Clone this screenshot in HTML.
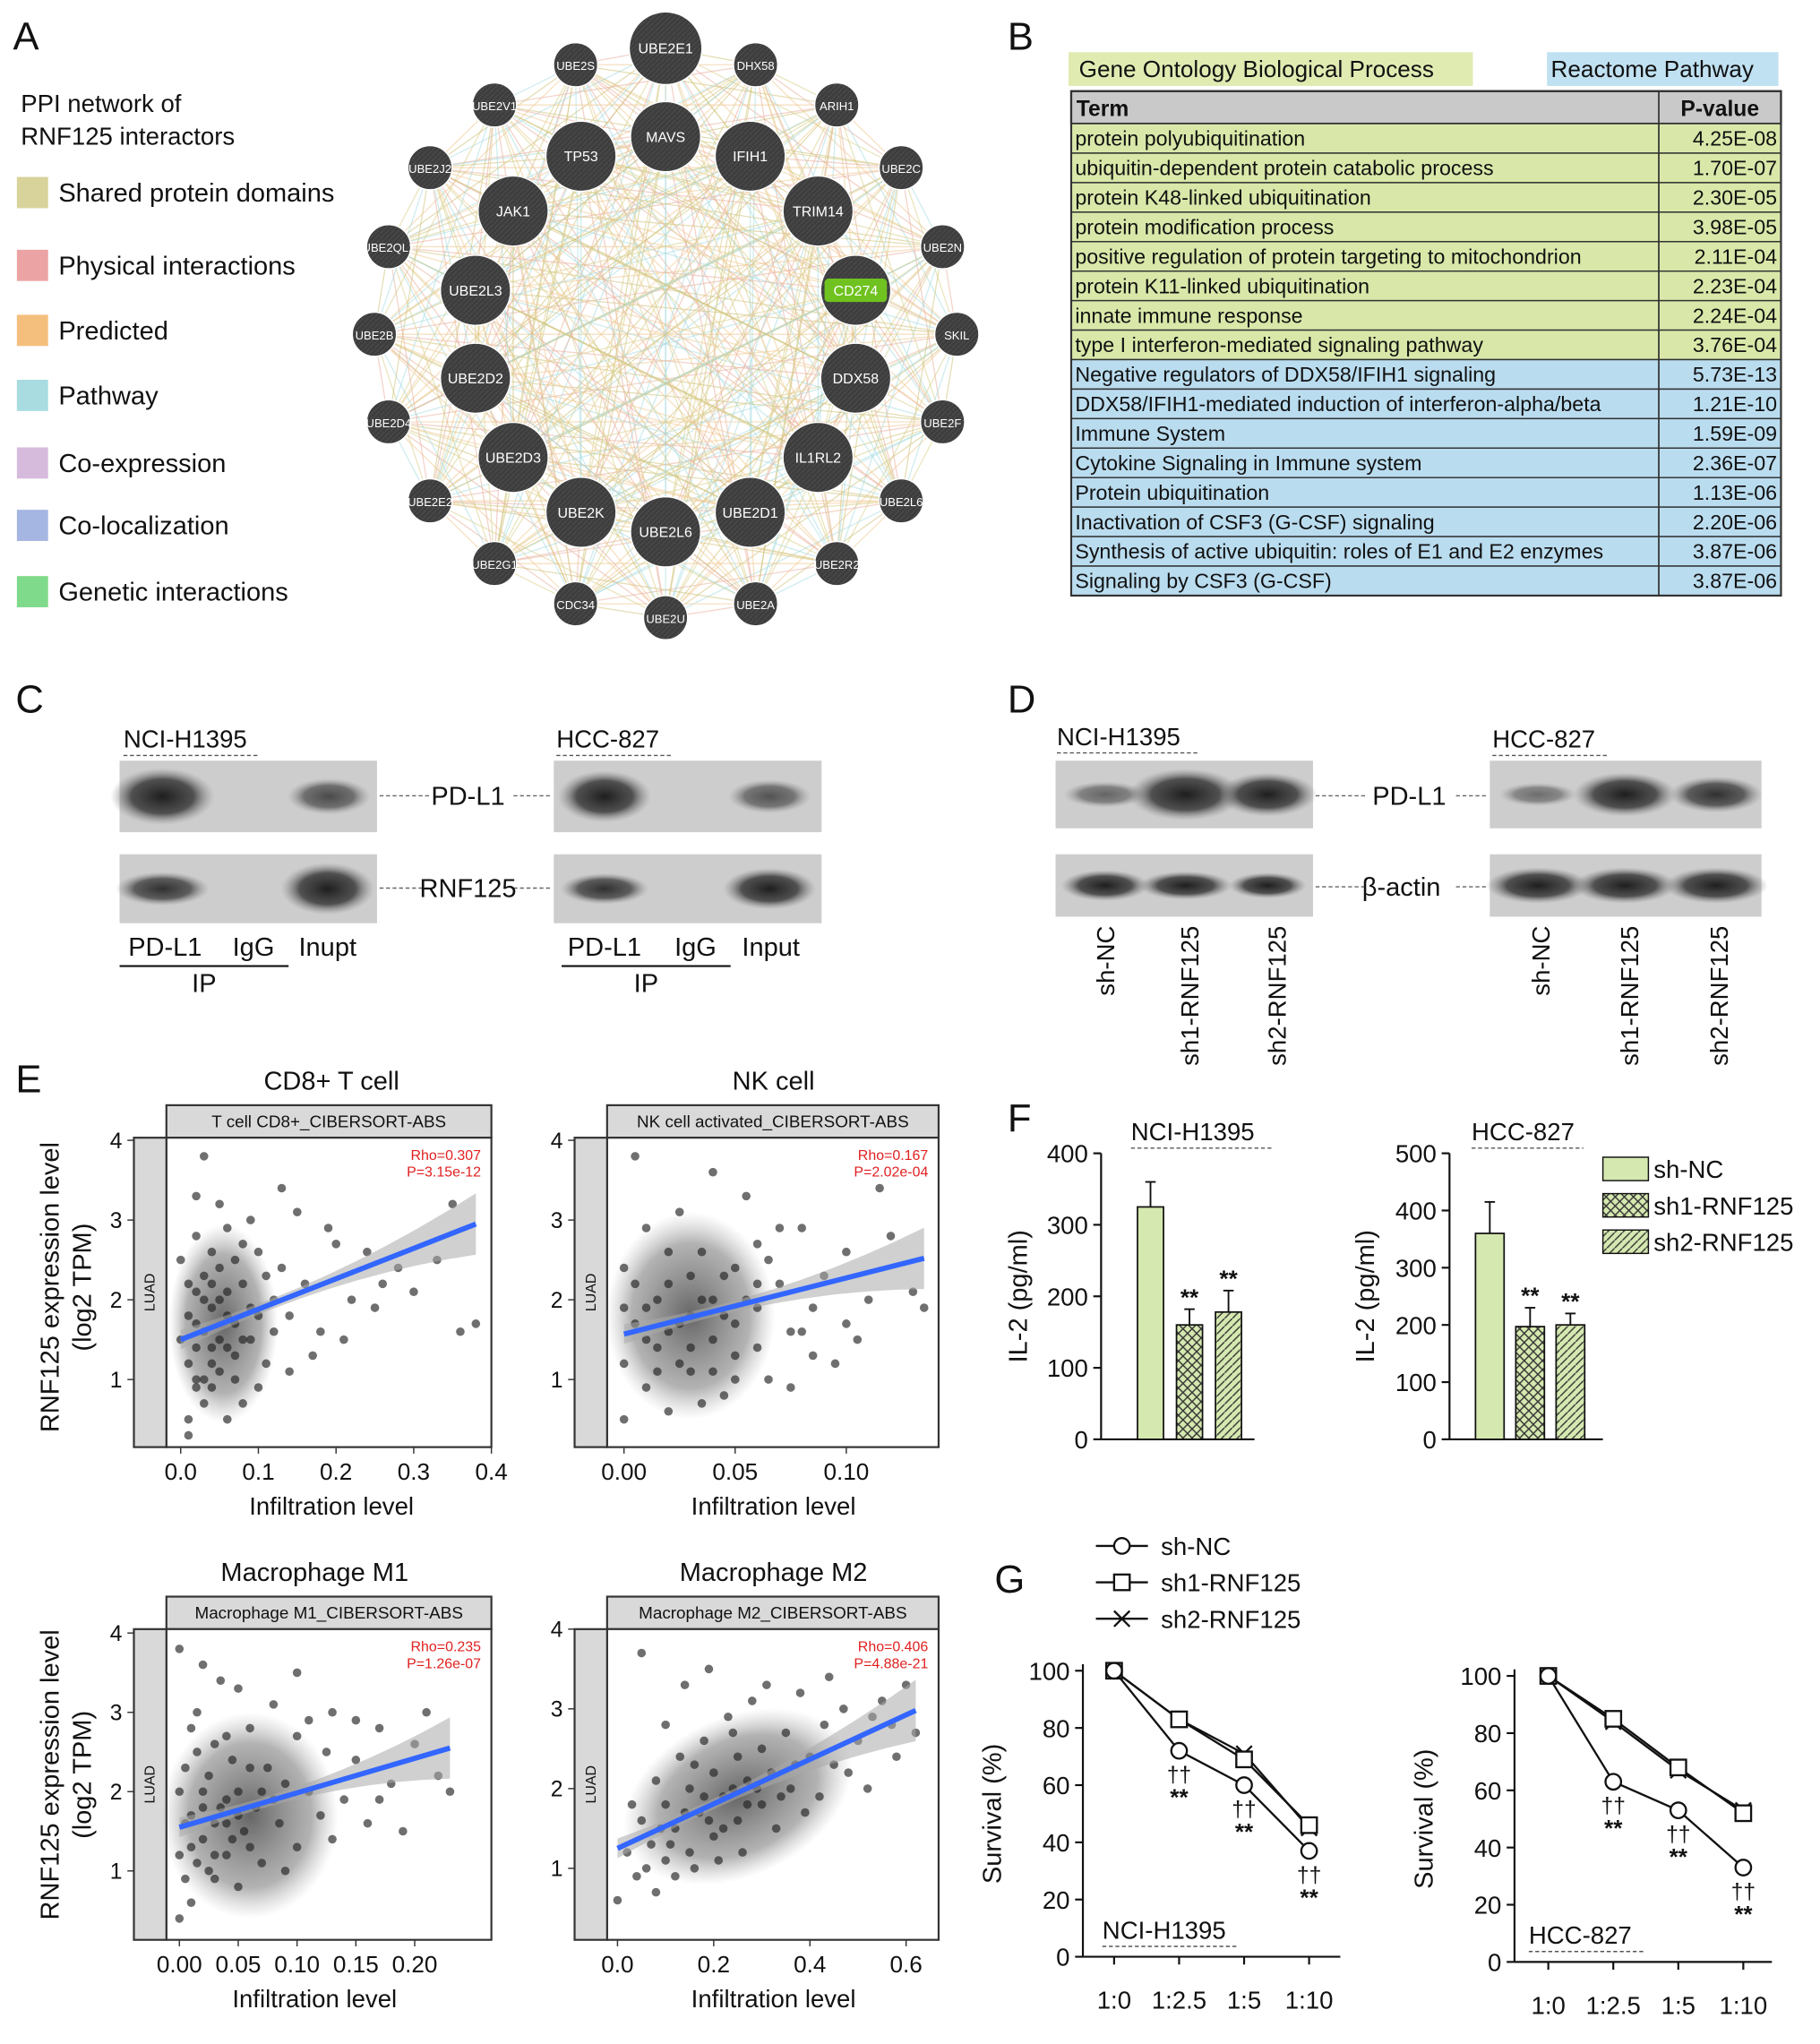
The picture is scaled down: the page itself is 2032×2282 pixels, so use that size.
<!DOCTYPE html>
<html><head><meta charset="utf-8">
<style>
html,body{margin:0;padding:0;background:#fff;}
svg{display:block;font-family:"Liberation Sans",Arial,sans-serif;}
</style></head>
<body>
<svg id="fig" width="2032" height="2282" viewBox="0 0 1400 1572" xmlns="http://www.w3.org/2000/svg">
<defs>
<radialGradient id="band"><stop offset="0" stop-color="#1e1e1e"/><stop offset="0.6" stop-color="#3a3a3a" stop-opacity="0.85"/><stop offset="1" stop-color="#8a8a8a" stop-opacity="0"/></radialGradient>
<radialGradient id="dens"><stop offset="0" stop-color="#333" stop-opacity="0.75"/><stop offset="0.7" stop-color="#555" stop-opacity="0.45"/><stop offset="1" stop-color="#888" stop-opacity="0"/></radialGradient>
<pattern id="cross" width="7" height="7" patternUnits="userSpaceOnUse"><rect width="7" height="7" fill="#d5e8b0"/><path d="M0,7 L7,0 M0,0 L7,7" stroke="#333" stroke-width="1"/></pattern>
<pattern id="diag" width="6" height="6" patternUnits="userSpaceOnUse"><rect width="6" height="6" fill="#d5e8b0"/><path d="M-1,7 L7,-1" stroke="#333" stroke-width="1"/></pattern>
<pattern id="nodehatch" width="4" height="4" patternUnits="userSpaceOnUse"><rect width="4" height="4" fill="#3d3d3d"/><path d="M0,4 L4,0" stroke="#4a4a4a" stroke-width="1"/></pattern>
</defs>
<g id="root"></g>
</svg>
<script>
// ===== Data arrays =====
const goTerms=["protein polyubiquitination","ubiquitin-dependent protein catabolic process","protein K48-linked ubiquitination","protein modification process","positive regulation of protein targeting to mitochondrion","protein K11-linked ubiquitination","innate immune response","type I interferon-mediated signaling pathway"];
const goP=["4.25E-08","1.70E-07","2.30E-05","3.98E-05","2.11E-04","2.23E-04","2.24E-04","3.76E-04"];
const reTerms=["Negative regulators of DDX58/IFIH1 signaling","DDX58/IFIH1-mediated induction of interferon-alpha/beta","Immune System","Cytokine Signaling in Immune system","Protein ubiquitination","Inactivation of CSF3 (G-CSF) signaling","Synthesis of active ubiquitin: roles of E1 and E2 enzymes","Signaling by CSF3 (G-CSF)"];
const reP=["5.73E-13","1.21E-10","1.59E-09","2.36E-07","1.13E-06","2.20E-06","3.87E-06","3.87E-06"];

const legendA=["Shared protein domains","Physical interactions","Predicted","Pathway","Co-expression","Co-localization","Genetic interactions"];
const outerNodes=["UBE2S","UBE2E1","DHX58","ARIH1","UBE2C","UBE2N","SKIL","UBE2F","UBE2L6","UBE2R2","UBE2A","UBE2U","CDC34","UBE2G1","UBE2E2","UBE2D4","UBE2B","UBE2QL1","UBE2J2","UBE2V1"];
const innerNodes=["TP53","MAVS","IFIH1","TRIM14","CD274","DDX58","IL1RL2","UBE2D1","UBE2L6","UBE2K","UBE2D3","UBE2D2","UBE2L3","JAK1"];

// IL-2 bars (F)
const ilGroups=["sh-NC","sh1-RNF125","sh2-RNF125"];
const il_h1395=[325,160,178];
const il_h1395_err=[35,22,30];
const il_hcc=[360,197,200];
const il_hcc_err=[55,33,20];
const il_ticks1=[0,100,200,300,400];
const il_ticks2=[0,100,200,300,400,500];

// Survival (G)
const ratios=["1:0","1:2.5","1:5","1:10"];
const surv1_nc=[100,72,60,37];
const surv1_sh1=[100,83,69,46];
const surv1_sh2=[100,83,71,45];
const surv2_nc=[100,63,53,33];
const surv2_sh1=[100,85,68,52];
const surv2_sh2=[100,84,67,53];
const survTicks=[0,20,40,60,80,100];

// Scatter (E)
const cd8Pts=[[0.01,1.2],[0.02,2.1],[0.03,1.6],[0.04,0.9],[0.05,2.4],[0.02,2.8],[0.06,1.8],[0.07,1.3],[0.03,3.8],[0.08,2.2],[0.01,0.5],[0.04,1.9],[0.09,1.5],[0.1,2.6],[0.05,1.1],[0.12,2.0],[0.06,2.9],[0.02,1.4],[0.11,1.2],[0.07,2.5],[0.14,1.8],[0.13,2.4],[0.15,3.1],[0.08,0.7],[0.03,2.3],[0.16,2.2],[0.18,1.6],[0.2,2.7],[0.17,1.3],[0.22,2.0],[0.25,1.9],[0.24,2.6],[0.28,2.4],[0.3,2.1],[0.33,2.5],[0.36,1.6],[0.38,1.7],[0.35,3.2],[0.01,1.8],[0.02,0.9],[0.04,1.4],[0.05,3.2],[0.09,3.0],[0.1,0.9],[0.12,1.6],[0.06,0.5],[0.19,2.9],[0.21,1.5],[0.26,2.2],[0.0,2.5],[0.03,1.0],[0.07,1.7],[0.08,2.7],[0.11,2.3],[0.14,1.1],[0.04,2.6],[0.02,3.3],[0.09,1.9],[0.13,3.4],[0.05,1.5],[0.01,0.3],[0.02,1.7],[0.03,2.0],[0.04,1.2],[0.06,2.1],[0.07,1.0],[0.08,1.5],[0.1,1.8],[0.06,1.4],[0.05,2.0],[0.01,2.2],[0.02,1.0],[0.0,1.5],[0.03,0.7],[0.04,2.2]];
const cd8Fit=[[0,1.5],[0.38,2.95]];
const cd8Ticks=[0,0.1,0.2,0.3,0.4];
const nkPts=[[0.0,1.2],[0.0,2.4],[0.005,1.7],[0.01,0.9],[0.01,2.9],[0.015,1.4],[0.02,2.2],[0.02,0.6],[0.025,3.1],[0.03,1.8],[0.03,1.1],[0.035,2.6],[0.04,1.5],[0.04,2.0],[0.045,0.8],[0.05,2.4],[0.05,1.3],[0.055,3.3],[0.06,1.9],[0.06,2.7],[0.065,1.0],[0.07,2.2],[0.075,1.6],[0.08,2.9],[0.085,1.9],[0.09,2.3],[0.095,1.2],[0.1,2.6],[0.105,1.5],[0.11,2.0],[0.12,2.8],[0.13,2.1],[0.135,1.9],[0.0,1.9],[0.005,3.8],[0.01,1.5],[0.015,2.0],[0.02,1.6],[0.025,1.2],[0.03,2.3],[0.035,0.7],[0.04,3.6],[0.045,1.8],[0.05,1.0],[0.055,2.0],[0.06,1.4],[0.07,2.9],[0.075,0.9],[0.085,1.3],[0.1,1.7],[0.115,3.4],[0.0,0.5],[0.005,2.2],[0.01,1.9],[0.015,1.1],[0.02,2.6],[0.025,1.7],[0.03,1.4],[0.035,2.0],[0.04,1.1],[0.045,2.3],[0.05,1.7],[0.06,2.2],[0.065,2.5],[0.08,1.6]];
const nkFit=[[0,1.57],[0.135,2.52]];
const nkTicks=[0,0.05,0.10];
const m1Pts=[[0.0,1.2],[0.005,2.3],[0.01,1.7],[0.01,0.6],[0.015,3.0],[0.02,1.4],[0.02,2.0],[0.025,1.0],[0.03,2.6],[0.03,1.6],[0.035,3.4],[0.04,1.9],[0.04,1.2],[0.045,2.4],[0.05,0.8],[0.05,2.0],[0.055,1.5],[0.06,2.8],[0.065,1.8],[0.07,1.1],[0.075,2.3],[0.08,3.1],[0.085,1.6],[0.09,2.1],[0.1,2.7],[0.1,1.3],[0.11,2.0],[0.12,1.7],[0.125,2.5],[0.13,3.0],[0.14,1.9],[0.15,2.4],[0.16,1.6],[0.17,2.8],[0.18,2.1],[0.19,1.5],[0.2,2.6],[0.21,3.0],[0.22,2.2],[0.23,2.0],[0.0,0.4],[0.005,1.6],[0.01,2.8],[0.015,1.1],[0.02,3.6],[0.025,2.2],[0.03,0.9],[0.035,1.8],[0.04,2.7],[0.045,1.4],[0.05,3.3],[0.06,1.3],[0.07,2.0],[0.08,1.9],[0.09,1.0],[0.1,3.5],[0.11,2.9],[0.13,1.4],[0.15,2.9],[0.17,1.9],[0.0,2.0],[0.005,0.9],[0.01,1.3],[0.02,1.8],[0.03,1.2],[0.04,1.6],[0.05,1.7],[0.06,2.3],[0.0,3.8],[0.015,2.5]];
const m1Fit=[[0,1.55],[0.23,2.55]];
const m1Ticks=[0,0.05,0.10,0.15,0.20];
const m2Pts=[[0.0,0.6],[0.02,1.2],[0.04,0.9],[0.05,1.6],[0.07,1.3],[0.08,2.1],[0.1,1.1],[0.1,1.8],[0.12,1.5],[0.13,2.4],[0.15,1.2],[0.15,2.0],[0.17,1.7],[0.18,2.6],[0.2,1.4],[0.2,2.2],[0.22,1.9],[0.23,2.9],[0.25,1.6],[0.25,2.4],[0.27,2.1],[0.28,3.1],[0.3,1.8],[0.3,2.5],[0.32,2.2],[0.33,1.5],[0.35,2.7],[0.36,2.0],[0.38,3.2],[0.4,2.4],[0.42,1.9],[0.43,2.8],[0.45,2.3],[0.47,3.0],[0.5,2.6],[0.52,2.0],[0.55,3.1],[0.57,2.8],[0.6,3.3],[0.62,2.7],[0.05,3.7],[0.08,0.7],[0.1,2.8],[0.12,0.9],[0.14,3.3],[0.16,1.0],[0.18,1.9],[0.19,3.5],[0.21,1.1],[0.24,2.0],[0.26,1.2],[0.29,2.0],[0.31,3.3],[0.34,1.9],[0.37,2.3],[0.39,1.7],[0.44,3.4],[0.48,2.2],[0.53,2.9],[0.58,2.4],[0.03,1.8],[0.06,1.0],[0.09,1.5],[0.11,1.3],[0.14,1.7],[0.16,2.3],[0.19,1.6],[0.22,1.5],[0.24,2.7],[0.27,1.8]];
const m2Fit=[[0,1.25],[0.62,2.98]];
const m2Ticks=[0,0.2,0.4,0.6];
const yTicksE=[1,2,3,4];

// ===== Helpers =====
const NS="http://www.w3.org/2000/svg";
const root=document.getElementById('root');
function mk(tag,attrs,parent){const e=document.createElementNS(NS,tag);for(const k in attrs)e.setAttribute(k,attrs[k]);(parent||root).appendChild(e);return e;}
function txt(s,x,y,size,parent,extra){const a={x:x,y:y,'font-size':size,fill:'#111'};if(extra)for(const k in extra)a[k]=extra[k];const t=mk('text',a,parent);t.textContent=s;return t;}
function grp(name,parent){const g=mk('g',{},parent);return g;}

[["A",10,38],["B",775,38],["C",12,548],["D",775,548],["E",12,840],["F",775,870],["G",765,1225]].forEach(p=>{
  const t=txt(p[0],p[1],p[2],30,root);
  
  
});

// ===== Panel A =====
const gA=grp('panel-a-ppi-network');
txt("PPI network of",16,86,19,gA);
txt("RNF125 interactors",16,111,19,gA);
const legCols=["#d8d29b","#eba3a3","#f4bf7d","#a8dce1","#d7bbdc","#a6b6e2","#80da8b"];
const legY=[148,204,254,304,356,404,455];
legendA.forEach((s,i)=>{
  const g=mk('g',{},gA);
  
  
  mk('rect',{x:13,y:legY[i]-12,width:24,height:24,fill:legCols[i]},g);
  txt(s,45,legY[i]+7,20,g);
});
const cx=512,cy=257;
const nodes=[];
outerNodes.forEach((n,i)=>{const a=-Math.PI/2+(i-1)*2*Math.PI/20;const r=n==="UBE2E1"?28:17;nodes.push({n:n,x:cx+(n==="UBE2E1"?0:Math.cos(a)*224),y:n==="UBE2E1"?37:cy+Math.sin(a)*218,r:r});});
innerNodes.forEach((n,i)=>{const ang=-Math.PI/2+(i-1)*(2*Math.PI/14);nodes.push({n:n,x:cx+Math.cos(ang)*150,y:cy+Math.sin(ang)*152,r:27});});
const edgeG=grp('network-edges',gA);
const ec=["#d8cf8a","#e9b0a0","#f0c890","#cfc37a","#a8dce1"];
for(let i=0;i<nodes.length;i++)for(let j=i+1;j<nodes.length;j++){
  if((i*7+j*3)%4===0)continue;
  mk('line',{x1:nodes[i].x,y1:nodes[i].y,x2:nodes[j].x,y2:nodes[j].y,stroke:ec[(i+j)%5],'stroke-width':0.9,'stroke-opacity':0.55},edgeG);
}
nodes.forEach(nd=>{
  const g=mk('g',{},gA);
  
  
  mk('circle',{cx:nd.x,cy:nd.y,r:nd.r,fill:'url(#nodehatch)',stroke:'#fff','stroke-width':1},g);
  if(nd.n==="CD274"){mk('rect',{x:nd.x-24,y:nd.y-9,width:48,height:18,rx:3,fill:'#6fc21f'},g);}
  txt(nd.n,nd.x,nd.y+4,nd.r>20?11:9,g,{fill:'#fff','text-anchor':'middle'});
});

// ===== Panel B =====
const gB=grp('panel-b-enrichment-table');
mk('rect',{x:822,y:40,width:311,height:26,fill:'#e0ebb2'},gB);
txt("Gene Ontology Biological Process",830,59,18,gB);
mk('rect',{x:1190,y:40,width:178,height:26,fill:'#c0e1f2'},gB);
txt("Reactome Pathway",1193,59,18,gB);
mk('rect',{x:824,y:70,width:546,height:25,fill:'#c9c9c9',stroke:'#333','stroke-width':1.5},gB);
txt("Term",828,89,17,gB,{'font-weight':'bold'});
txt("P-value",1323,89,17,gB,{'font-weight':'bold','text-anchor':'middle'});
const rowH=(458-95)/16;
const allT=goTerms.concat(reTerms), allP=goP.concat(reP);
allT.forEach((s,i)=>{
  const y=95+i*rowH;
  const g=mk('g',{},gB);
  
  
  mk('rect',{x:824,y:y,width:546,height:rowH,fill:i<8?'#d9e8a9':'#badcef',stroke:'#333','stroke-width':1},g);
  txt(s,827,y+17,16,g);
  txt(allP[i],1367,y+17,16,g,{'text-anchor':'end'});
});
mk('line',{x1:1276,y1:70,x2:1276,y2:458,stroke:'#333','stroke-width':1.2},gB);
mk('rect',{x:824,y:70,width:546,height:388,fill:'none',stroke:'#333','stroke-width':1.5},gB);

// ===== Blots =====
function blot(name,x,y,w,h,bands,parent){
  const g=grp(name,parent);
  mk('rect',{x:x,y:y,width:w,height:h,fill:'#cdcdcd'},g);
  bands.forEach(b=>{mk('ellipse',{cx:b[0],cy:y+h/2,rx:b[1],ry:b[2],fill:'url(#band)',opacity:b[3]},g);});
  return g;
}
function dashLabel(s,x,y,w,parent){txt(s,x,y,19,parent);mk('line',{x1:x,y1:y+6,x2:x+w,y2:y+6,stroke:'#555','stroke-width':1,'stroke-dasharray':'3,2'},parent);}
const gC=grp('panel-c-co-ip');
dashLabel("NCI-H1395",95,575,105,gC);
dashLabel("HCC-827",428,575,88,gC);
blot('ip-blot-pdl1-h1395',92,585,198,55,[[125,40,22,1],[253,32,14,0.75]],gC);
blot('ip-blot-rnf125-h1395',92,657,198,53,[[125,36,13,0.9],[252,36,20,1]],gC);
blot('ip-blot-pdl1-hcc827',426,585,206,55,[[465,36,20,1],[592,32,13,0.7]],gC);
blot('ip-blot-rnf125-hcc827',426,657,206,53,[[465,34,12,0.9],[592,36,16,1]],gC);
[[612,"PD-L1"],[683,"RNF125"]].forEach(r=>{
  mk('line',{x1:292,y1:r[0],x2:330,y2:r[0],stroke:'#666','stroke-dasharray':'3,2'},gC);
  mk('line',{x1:395,y1:r[0],x2:424,y2:r[0],stroke:'#666','stroke-dasharray':'3,2'},gC);
  txt(r[1],360,r[0]+7,20,gC,{'text-anchor':'middle'});
});
[[127,"PD-L1"],[195,"IgG"],[252,"Inupt"],[465,"PD-L1"],[535,"IgG"],[593,"Input"]].forEach(l=>txt(l[1],l[0],735,20,gC,{'text-anchor':'middle'}));
mk('line',{x1:92,y1:743,x2:222,y2:743,stroke:'#111','stroke-width':1.5},gC);
mk('line',{x1:432,y1:743,x2:562,y2:743,stroke:'#111','stroke-width':1.5},gC);
txt("IP",157,763,20,gC,{'text-anchor':'middle'});
txt("IP",497,763,20,gC,{'text-anchor':'middle'});

const gD=grp('panel-d-western-blot');
dashLabel("NCI-H1395",813,573,108,gD);
dashLabel("HCC-827",1148,575,88,gD);
blot('wb-pdl1-h1395',812,585,198,52,[[850,32,10,0.6],[912,44,20,1],[975,38,17,1]],gD);
blot('wb-actin-h1395',812,657,198,48,[[850,34,12,1],[912,36,11,1],[975,30,10,1]],gD);
blot('wb-pdl1-hcc827',1146,585,209,52,[[1183,30,9,0.55],[1250,40,17,1],[1320,36,14,0.9]],gD);
blot('wb-actin-hcc827',1146,657,209,48,[[1183,40,14,1],[1250,40,14,1],[1320,40,14,1]],gD);
[[612,"PD-L1",1084],[682,"β-actin",1078]].forEach(r=>{
  mk('line',{x1:1012,y1:r[0],x2:1050,y2:r[0],stroke:'#666','stroke-dasharray':'3,2'},gD);
  mk('line',{x1:1120,y1:r[0],x2:1144,y2:r[0],stroke:'#666','stroke-dasharray':'3,2'},gD);
  txt(r[1],r[2],r[0]+7,20,gD,{'text-anchor':'middle'});
});
[[850,"sh-NC"],[915,"sh1-RNF125"],[982,"sh2-RNF125"],[1185,"sh-NC"],[1253,"sh1-RNF125"],[1322,"sh2-RNF125"]].forEach(l=>{
  const t=txt(l[1],0,0,19,gD,{'text-anchor':'end',transform:'translate('+(l[0]+7)+',712) rotate(-90)'});
  
  
});

// ===== Panel E scatter =====
function scatter(name,o){
  const g=grp(name);
  const sx=v=>o.x0+(v-o.d0)/(o.d1-o.d0)*(o.x1-o.x0);
  const sy=v=>o.yb-(v-1)*(o.yb-o.yt)/3;
  txt(o.title,o.tx,o.hy-12,20,g,{'text-anchor':'middle'});
  mk('rect',{x:o.px,y:o.hy,width:o.pw,height:25,fill:'#d9d9d9',stroke:'#333','stroke-width':1.5},g);
  txt(o.strip,o.px+o.pw/2,o.hy+17,13,g,{'text-anchor':'middle'});
  mk('rect',{x:o.px,y:o.hy+25,width:o.pw,height:o.ph,fill:'#fff',stroke:'#333','stroke-width':1.5},g);
  mk('rect',{x:o.px-25,y:o.hy+25,width:25,height:o.ph,fill:'#d9d9d9',stroke:'#333','stroke-width':1.5},g);
  txt("LUAD",0,0,11,g,{'text-anchor':'middle',transform:'translate('+(o.px-9)+','+(o.hy+25+o.ph/2)+') rotate(-90)'});
  yTicksE.forEach(v=>{mk('line',{x1:o.px-30,y1:sy(v),x2:o.px-25,y2:sy(v),stroke:'#333'},g);txt(String(v),o.px-34,sy(v)+6,17,g,{'text-anchor':'end'});});
  o.ticks.forEach(v=>{mk('line',{x1:sx(v),y1:o.hy+25+o.ph,x2:sx(v),y2:o.hy+30+o.ph,stroke:'#333'},g);txt(o.fmt(v),sx(v),o.hy+25+o.ph+25,18,g,{'text-anchor':'middle'});});
  txt("Infiltration level",o.tx,o.hy+25+o.ph+52,19,g,{'text-anchor':'middle'});
  // density cloud of the many overlapping samples
  const dc=mk('ellipse',{cx:sx(o.dens[0]),cy:sy(o.dens[1]),rx:Math.abs(sx(o.dens[2])-sx(0)),ry:Math.abs(sy(o.dens[3])-sy(0)),fill:'url(#dens)',transform:'rotate('+o.dens[4]+' '+sx(o.dens[0])+' '+sy(o.dens[1])+')'},g);
  
  
  const pg=grp('scatter-points',g);
  o.pts.forEach(p=>{mk('circle',{cx:sx(p[0]),cy:sy(p[1]),r:3.3,fill:'#222','fill-opacity':0.65},pg);});
  const f=o.fit;const X0=sx(f[0][0]),Y0=sy(f[0][1]),X1=sx(f[1][0]),Y1=sy(f[1][1]);
  const band=[];for(let k=0;k<=10;k++){const t=k/10;const w=4+Math.pow(Math.abs(t-0.3)*2,2)*10;band.push([X0+(X1-X0)*t,Y0+(Y1-Y0)*t-w]);}
  for(let k=10;k>=0;k--){const t=k/10;const w=4+Math.pow(Math.abs(t-0.3)*2,2)*10;band.push([X0+(X1-X0)*t,Y0+(Y1-Y0)*t+w]);}
  const ci=mk('polygon',{points:band.map(p=>p.join(',')).join(' '),fill:'#aaa','fill-opacity':0.55},g);
  
  const ln=mk('line',{x1:X0,y1:Y0,x2:X1,y2:Y1,stroke:'#3366ff','stroke-width':4},g);
  
  
  txt(o.rho,o.px+o.pw-8,o.hy+42,11,g,{fill:'#e02020','text-anchor':'end'});
  txt(o.pv,o.px+o.pw-8,o.hy+55,11,g,{fill:'#e02020','text-anchor':'end'});
}
const f1=v=>v.toFixed(1),f2=v=>v.toFixed(2);
scatter('scatter-cd8',{title:"CD8+ T cell",tx:255,strip:"T cell CD8+_CIBERSORT-ABS",px:128,pw:250,hy:850,ph:238,yt:877,yb:1061,x0:139,x1:378,d0:0,d1:0.4,ticks:cd8Ticks,fmt:f1,pts:cd8Pts,fit:cd8Fit,rho:"Rho=0.307",pv:"P=3.15e-12",dens:[0.055,1.7,0.07,1.25,0]});
scatter('scatter-nk',{title:"NK cell",tx:595,strip:"NK cell activated_CIBERSORT-ABS",px:467,pw:255,hy:850,ph:238,yt:877,yb:1061,x0:480,x1:651,d0:0,d1:0.10,ticks:nkTicks,fmt:f2,pts:nkPts,fit:nkFit,rho:"Rho=0.167",pv:"P=2.02e-04",dens:[0.03,1.8,0.038,1.3,0]});
scatter('scatter-m1',{title:"Macrophage M1",tx:242,strip:"Macrophage M1_CIBERSORT-ABS",px:128,pw:250,hy:1228,ph:239,yt:1256,yb:1439,x0:138,x1:319,d0:0,d1:0.2,ticks:m1Ticks,fmt:f2,pts:m1Pts,fit:m1Fit,rho:"Rho=0.235",pv:"P=1.26e-07",dens:[0.06,1.7,0.075,1.3,0]});
scatter('scatter-m2',{title:"Macrophage M2",tx:595,strip:"Macrophage M2_CIBERSORT-ABS",px:467,pw:255,hy:1228,ph:239,yt:1253,yb:1437,x0:475,x1:697,d0:0,d1:0.6,ticks:m2Ticks,fmt:f1,pts:m2Pts,fit:m2Fit,rho:"Rho=0.406",pv:"P=4.88e-21",dens:[0.25,1.9,0.25,1.0,-25]});
[[990],[1365]].forEach(r=>{
  txt("RNF125 expression level",0,0,20,root,{'text-anchor':'middle',transform:'translate(45,'+r[0]+') rotate(-90)'});
  txt("(log2 TPM)",0,0,20,root,{'text-anchor':'middle',transform:'translate(70,'+r[0]+') rotate(-90)'});
});

// ===== Panel F bars =====
const fills=['#d5e8b0','url(#cross)','url(#diag)'];
function barChart(name,o){
  const g=grp(name);
  const sy=v=>o.yb-v/o.max*(o.yb-o.yt);
  mk('line',{x1:o.ax,y1:o.yt,x2:o.ax,y2:o.yb,stroke:'#111','stroke-width':1.5},g);
  mk('line',{x1:o.ax,y1:o.yb,x2:o.ax+118,y2:o.yb,stroke:'#111','stroke-width':1.5},g);
  o.ticks.forEach(v=>{mk('line',{x1:o.ax-6,y1:sy(v),x2:o.ax,y2:sy(v),stroke:'#111','stroke-width':1.5},g);txt(String(v),o.ax-10,sy(v)+7,19,g,{'text-anchor':'end'});});
  txt("IL-2 (pg/ml)",0,0,20,g,{'text-anchor':'middle',transform:'translate('+o.lx+',997) rotate(-90)'});
  dashLabel(o.title,o.tx,877,o.tw,g);
  o.vals.forEach((v,i)=>{
    const x=o.bx+i*o.step;
    const b=mk('rect',{x:x,y:sy(v),width:o.bw,height:o.yb-sy(v),fill:fills[i],stroke:'#111','stroke-width':1.2},g);
    
    
    const e=o.err[i];
    mk('line',{x1:x+o.bw/2,y1:sy(v),x2:x+o.bw/2,y2:sy(v+e),stroke:'#111','stroke-width':1.3},g);
    mk('line',{x1:x+o.bw/2-4,y1:sy(v+e),x2:x+o.bw/2+4,y2:sy(v+e),stroke:'#111','stroke-width':1.3},g);
    if(i>0)txt("**",x+o.bw/2,sy(v+e)-3,18,g,{'text-anchor':'middle','font-weight':'bold'});
  });
}
barChart('il2-chart-h1395',{ax:847,yt:887,yb:1107,max:400,ticks:il_ticks1,vals:il_h1395,err:il_h1395_err,bx:875,step:30,bw:20,lx:790,title:"NCI-H1395",tx:870,tw:108});
barChart('il2-chart-hcc827',{ax:1115,yt:887,yb:1107,max:500,ticks:il_ticks2,vals:il_hcc,err:il_hcc_err,bx:1135,step:31,bw:22,lx:1057,title:"HCC-827",tx:1132,tw:86});
const gFL=grp('il2-legend');
ilGroups.forEach((s,i)=>{const y=899+i*28;mk('rect',{x:1233,y:y-9,width:35,height:18,fill:fills[i],stroke:'#111'},gFL);txt(s,1272,y+7,19,gFL);});

// ===== Panel G survival =====
function marker(type,x,y,g){
  if(type===0)mk('circle',{cx:x,cy:y,r:6,fill:'#fff',stroke:'#111','stroke-width':1.6},g);
  else if(type===1)mk('rect',{x:x-6,y:y-6,width:12,height:12,fill:'#fff',stroke:'#111','stroke-width':1.6},g);
  else{mk('path',{d:'M'+(x-6)+','+(y-6)+'L'+(x+6)+','+(y+6)+'M'+(x-6)+','+(y+6)+'L'+(x+6)+','+(y-6),stroke:'#111','stroke-width':1.6},g);}
}
function survChart(name,o){
  const g=grp(name);
  const sy=v=>o.yb-v/100*(o.yb-o.yt);
  const sx=i=>o.xs+i*o.dx;
  mk('line',{x1:o.ax,y1:o.yt-5,x2:o.ax,y2:o.yb,stroke:'#111','stroke-width':1.5},g);
  mk('line',{x1:o.ax,y1:o.yb,x2:o.ax+198,y2:o.yb,stroke:'#111','stroke-width':1.5},g);
  survTicks.forEach(v=>{mk('line',{x1:o.ax-6,y1:sy(v),x2:o.ax,y2:sy(v),stroke:'#111','stroke-width':1.5},g);txt(String(v),o.ax-10,sy(v)+7,19,g,{'text-anchor':'end'});});
  ratios.forEach((r,i)=>{mk('line',{x1:sx(i),y1:o.yb,x2:sx(i),y2:o.yb+6,stroke:'#111','stroke-width':1.5},g);txt(r,sx(i),o.yb+40,19,g,{'text-anchor':'middle'});});
  txt("Survival (%)",0,0,20,g,{'text-anchor':'middle',transform:'translate('+o.lx+','+((o.yt+o.yb)/2)+') rotate(-90)'});
  dashLabel(o.title,o.tx,o.yb-14,o.tw,g);
  [o.sh2,o.sh1,o.nc].forEach((ser,si)=>{
    const type=2-si;
    const sg=grp('survival-series-'+['sh2','sh1','nc'][si],g);
    mk('polyline',{points:ser.map((v,i)=>sx(i)+','+sy(v)).join(' '),fill:'none',stroke:'#111','stroke-width':1.6},sg);
    ser.forEach((v,i)=>marker(type,sx(i),sy(v),sg));
  });
  o.nc.forEach((v,i)=>{if(i>0){txt("††",sx(i),sy(v)+24,17,g,{'text-anchor':'middle'});txt("**",sx(i),sy(v)+42,18,g,{'text-anchor':'middle','font-weight':'bold'});}});
}
survChart('survival-chart-h1395',{ax:833,yt:1285,yb:1505,xs:857,dx:50,nc:surv1_nc,sh1:surv1_sh1,sh2:surv1_sh2,lx:770,title:"NCI-H1395",tx:848,tw:105});
survChart('survival-chart-hcc827',{ax:1165,yt:1289,yb:1509,xs:1191,dx:50,nc:surv2_nc,sh1:surv2_sh1,sh2:surv2_sh2,lx:1102,title:"HCC-827",tx:1176,tw:88});
const gGL=grp('survival-legend');
["sh-NC","sh1-RNF125","sh2-RNF125"].forEach((s,i)=>{const y=1189+i*28;mk('line',{x1:843,y1:y,x2:883,y2:y,stroke:'#111','stroke-width':1.6},gGL);marker(i,863,y,gGL);txt(s,893,y+7,19,gGL);});
</script>
</body></html>
